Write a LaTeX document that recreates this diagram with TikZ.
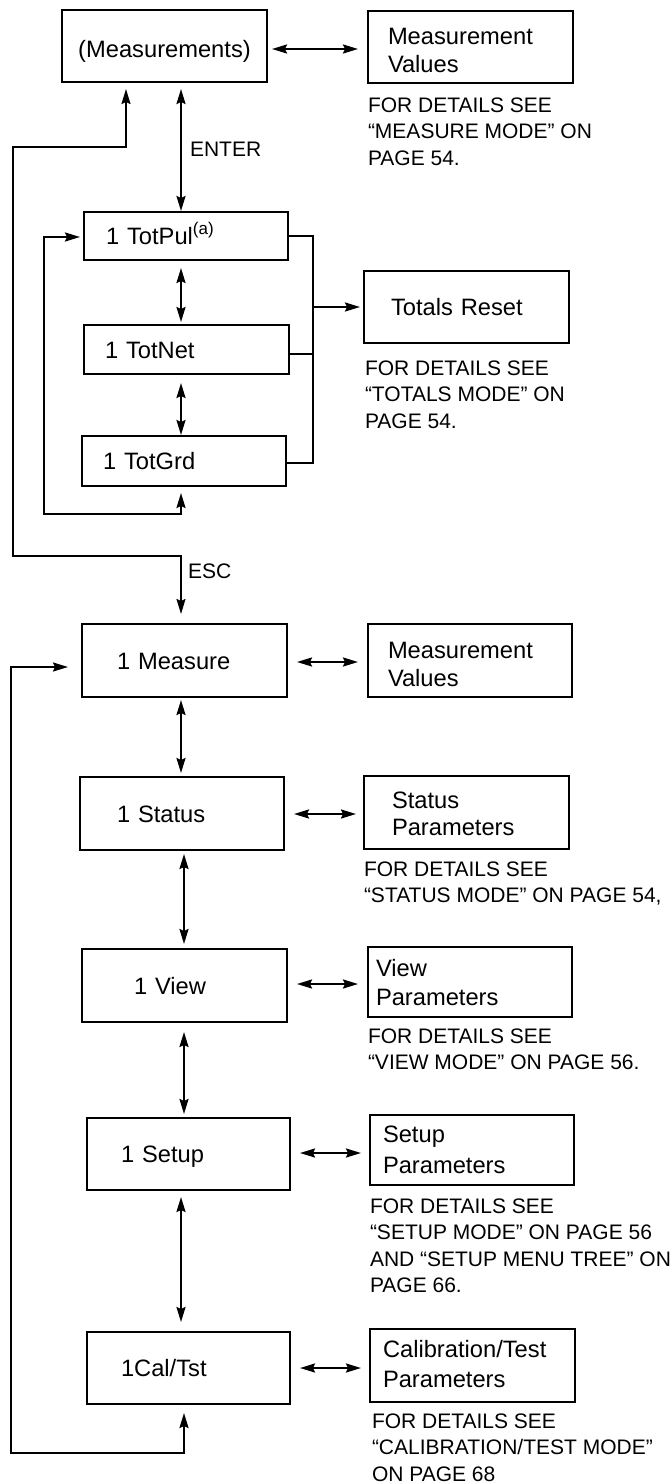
\documentclass[tikz,border=0pt]{standalone}
\usepackage{fontspec}
\setmainfont{Liberation Sans}
\usetikzlibrary{arrows.meta,calc}
\newcommand\btf{\fontsize{23.7}{28}\selectfont}
\newcommand\ntf{\fontsize{21}{26.5}\selectfont}
\tikzset{
  mytip/.tip={Stealth[length=15pt,width=9pt,inset=2pt]},
  box/.style={draw, line width=2.8pt, anchor=north west, outer sep=0pt, inner ysep=0pt},
  one/.style={box, align=left, font=\btf, text height=17pt, text depth=0pt},
  two/.style={anchor=north west, inner sep=0pt, outer sep=0pt, align=left, font=\btf},
  note/.style={anchor=north west, inner sep=0pt, outer sep=0pt, align=left, font=\ntf},
  lbl/.style={anchor=base west, inner sep=0pt, outer sep=0pt, font=\ntf},
  darr/.style={line width=2.2pt, {mytip}-{mytip}},
  arr/.style={line width=2.2pt, -{mytip}},
  loopl/.style={line width=2pt, {mytip}-{mytip}},
  escl/.style={line width=1.6pt, {mytip}-{mytip}},
  thinl/.style={line width=1.5pt}
}
\begin{document}
\begin{tikzpicture}[x=1pt,y=-1pt]
\path[fill=white, use as bounding box] (0,0) rectangle (670,1483);

% ---- top part
\node[box, font=\btf, minimum width=205pt, minimum height=72pt, text height=23pt, text depth=0pt] (A) at (62,10) {(Measurements)};
\node[box, minimum width=205pt, minimum height=72pt] (MV1) at (368,11) {};
\node[two] (MV1t) at (388,26) {\rule{0pt}{18pt}Measurement\\Values};
\node[note] (N1) at (368,96) {\rule{0pt}{16pt}FOR DETAILS SEE\\“MEASURE MODE” ON\\PAGE 54.};

\node[one, minimum width=204pt, minimum height=48pt, inner xsep=22pt, text width=160pt] (TotPul) at (84,212) {1 TotPul\raisebox{10pt}{\fontsize{17}{17}\selectfont(a)}};
\node[one, minimum width=205pt, minimum height=49pt, inner xsep=21pt, text width=163pt] (TotNet) at (84,325) {1 TotNet};
\node[one, minimum width=204pt, minimum height=50pt, inner xsep=21pt, text width=162pt] (TotGrd) at (82,436) {1 TotGrd};
\node[one, minimum width=205pt, minimum height=72pt, inner xsep=27pt, text width=151pt] (TR) at (364,271) {Totals Reset};
\node[note] (N2) at (365,359) {\rule{0pt}{16pt}FOR DETAILS SEE\\“TOTALS MODE” ON\\PAGE 54.};

% ---- main menu
\node[one, minimum width=205pt, minimum height=73pt, inner xsep=35pt, text width=135pt] (Measure) at (82,624) {1 Measure};
\node[box, minimum width=204pt, minimum height=73pt] (MV2) at (368,624) {};
\node[two] (MV2t) at (388,640) {\rule{0pt}{18pt}Measurement\\Values};

\node[one, minimum width=204pt, minimum height=73pt, inner xsep=37pt, text width=130pt] (Status) at (80,777) {1 Status};
\node[box, minimum width=205pt, minimum height=73pt] (SP) at (364,776) {};
\node[two] (SPt) at (392,790) {\rule{0pt}{18pt}Status\\[-1pt]Parameters};
\node[note] (N3) at (364,860) {\rule{0pt}{16pt}FOR DETAILS SEE\\“STATUS MODE” ON PAGE 54,};

\node[one, minimum width=205pt, minimum height=73pt, inner xsep=52pt, text width=101pt] (View) at (82,949) {1 View};
\node[box, minimum width=204pt, minimum height=70pt] (VP) at (368,947) {};
\node[two] (VPt) at (376,958) {\rule{0pt}{18pt}View\\[1pt]Parameters};
\node[note] (N4) at (368,1027) {\rule{0pt}{16pt}FOR DETAILS SEE\\“VIEW MODE” ON PAGE 56.};

\node[one, minimum width=203pt, minimum height=72pt, inner xsep=34pt, text width=135pt] (Setup) at (87,1118) {1 Setup};
\node[box, minimum width=204pt, minimum height=70pt] (SuP) at (370,1115) {};
\node[two] (SuPt) at (383,1124) {\rule{0pt}{18pt}Setup\\[3pt]Parameters};
\node[note] (N5) at (370,1197) {\rule{0pt}{16pt}FOR DETAILS SEE\\“SETUP MODE” ON PAGE 56\\AND “SETUP MENU TREE” ON\\PAGE 66.};

\node[one, minimum width=203pt, minimum height=72pt, inner xsep=34pt, text width=135pt] (Cal) at (87,1332) {1Cal/Tst};
\node[box, minimum width=205pt, minimum height=73pt] (CP) at (370,1329) {};
\node[two] (CPt) at (383,1339) {\rule{0pt}{18pt}Calibration/Test\\[2pt]Parameters};
\node[note] (N6) at (372,1412) {\rule{0pt}{16pt}FOR DETAILS SEE\\“CALIBRATION/TEST MODE”\\ON PAGE 68};

% ---- bend points
\coordinate (c1) at (13,147);
\coordinate (c2) at (181,556);
\coordinate (c3) at (44,514);
\coordinate (b1) at (313,236);
\coordinate (b2) at (313,463);
\coordinate (c5) at (11,1453);

% ---- connectors, top
\draw[darr] ($(A.east)+(5,3)$) -- ($(MV1.west)+(-10,2)$);
\draw[darr] ($(A.south)+(16.5,7)$) -- ($(TotPul.north)+(-5,-1)$);
\node[lbl] (enter) at (190,156.5) {ENTER};
\draw[escl] ($(A.south)+(-38.5,7)$) |- (c1) |- (c2) -- ($(Measure.north)+(-3.5,-10)$);
\node[lbl] (esc) at (188,578) {ESC};

\draw[darr] ($(TotPul.south)+(-5,8)$) -- ($(TotNet.north)+(-5.5,-3)$);
\draw[darr] ($(TotNet.south)+(-5.5,9)$) -- ($(TotGrd.north)+(-3,-1)$);
\draw[loopl] ($(TotGrd.south)+(-3,7)$) |- (c3) |- ($(TotPul.west)+(-4,1)$);

\draw[thinl] (TotPul.east) -- (b1) -- (b2) -- (b2 -| TotGrd.east);
\draw[thinl] ($(TotNet.east)+(0,4.5)$) -- ($(TotNet.east -| b1)+(0,4.5)$);
\draw[arr] (TR.west -| b1) -- ($(TR.west)+(-4,0)$);

% ---- connectors, main menu
\draw[darr] ($(Measure.east)+(10,1.5)$) -- ($(MV2.west)+(-10,1.5)$);
\draw[darr] ($(Measure.south)+(-3.5,3)$) -- ($(Status.north)+(-1,-4)$);
\draw[darr] ($(Status.east)+(10,0.5)$) -- ($(SP.west)+(-8,1.5)$);
\draw[darr] ($(Status.south)+(2,4)$) -- ($(View.north)+(-0.5,-5)$);
\draw[darr] ($(View.east)+(10,-1.5)$) -- ($(VP.west)+(-10,2)$);
\draw[darr] ($(View.south)+(-0.5,10)$) -- ($(Setup.north)+(-4.5,-4)$);
\draw[darr] ($(Setup.east)+(10,-1)$) -- ($(SuP.west)+(-9,3)$);
\draw[darr] ($(Setup.south)+(-7.5,7)$) -- ($(Cal.north)+(-7.5,-10)$);
\draw[darr] ($(Cal.east)+(10,0)$) -- ($(CP.west)+(-9,2.5)$);
\draw[loopl] ($(Cal.south)+(-4.5,9)$) |- (c5) |- ($(Measure.west)+(-14,6.5)$);
\end{tikzpicture}
\end{document}
